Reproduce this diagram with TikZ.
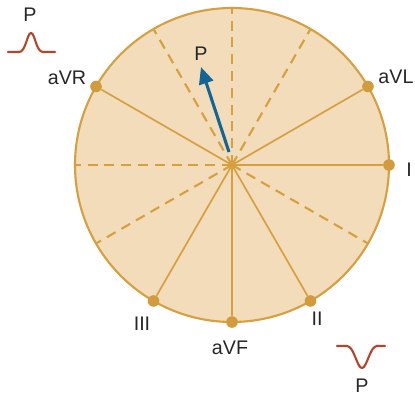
\documentclass[tikz,border=0pt]{standalone}
\usepackage{fontspec}
\setmainfont{Liberation Sans}
\usetikzlibrary{arrows.meta, positioning}

\definecolor{discfill}{HTML}{F2DCBA}
\definecolor{axisgold}{HTML}{D6A040}
\definecolor{dotgold}{HTML}{D29C3E}
\definecolor{vecblue}{HTML}{136596}
\definecolor{wavered}{HTML}{B2452A}
\definecolor{labelgray}{HTML}{262626}

\begin{document}
\begin{tikzpicture}[
    x=0.025cm, y=0.025cm,
    disc/.style={draw=axisgold, fill=discfill, line width=1.5pt},
    spoke/.style={draw=axisgold, line width=1.2pt},
    negaxis/.style={draw=axisgold, line width=1.5pt, dash pattern=on 0.25cm off 0.17cm},
    lead/.style={font=\fontsize{14}{16}\selectfont, text=labelgray, inner sep=0pt},
    dot/.style={circle, fill=dotgold, inner sep=0pt, minimum size=0.29cm},
    vec/.style={-{Triangle[length=0.42cm, width=0.36cm]}, draw=vecblue, line width=2.2pt},
    wave/.style={draw=wavered, line width=1.5pt, line cap=round}
]

\useasboundingbox (-232,-230) rectangle (183,165);

\coordinate (O) at (0,0);
\draw[disc] (O) circle (157);

% negative halves of the leads
\foreach \a/\n in {180/nI, 120/nII, 60/nIII, 90/nF, -30/nR, -150/nL} {
    \coordinate (\n) at (\a:157);
    \draw[negaxis] (O) -- (\n);
}

% positive halves with end dots
\foreach \a/\n in {0/I, -60/II, -120/III, -90/aVF, 150/aVR, 30/aVL} {
    \node[dot] (d\n) at (\a:157) {};
    \draw[spoke] (O) -- (d\n);
}

% lead names
\node[lead] (tI)   at (177,-5)   {I};
\node[lead] (tII)  at (85,-154)  {II};
\node[lead] (tIII) at (-90,-159) {III};
\node[lead] (tF)   at (-2,-183)  {aVF};
\node[lead] (tR)   at (-165,87)  {aVR};
\node[lead] (tL)   at (164,88)   {aVL};

% mean P vector
\coordinate (ptail) at (-3,13);
\coordinate (ptip) at (-31,98);
\node[lead] (pvec) at (-31,111) {P};
\draw[vec] (ptail) -- (ptip);

% P waves
\node[lead] (pup) at (-202,150) {P};
\draw[wave] (-224,113) -- (-213,113) .. controls (-206,113) and (-205,132) .. (-201,132)
    .. controls (-197,132) and (-196,113) .. (-189,113) -- (-177,113);

\node[lead] (pdown) at (130,-221) {P};
\draw[wave] (105,-181) -- (115,-181) .. controls (122,-181) and (125,-203) .. (130,-203)
    .. controls (135,-203) and (138,-181) .. (145,-181) -- (153,-181);

\end{tikzpicture}
\end{document}
